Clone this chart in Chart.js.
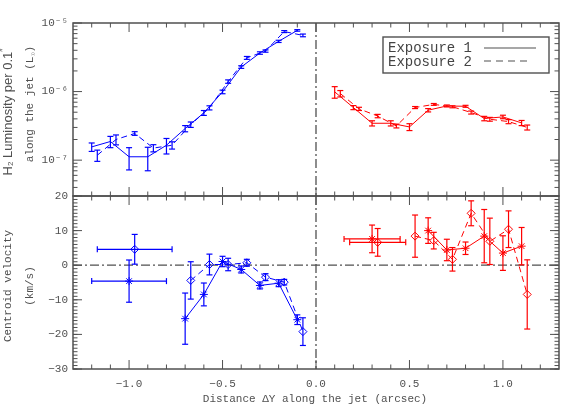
<!DOCTYPE html>
<html>
<head>
<meta charset="utf-8">
<script src="https://cdn.jsdelivr.net/npm/chart.js@4.4.0/dist/chart.umd.min.js"></script>
<style>
  body { margin: 0; background: #fff; }
  #wrap { position: relative; width: 581px; height: 415px; }
  #wrap canvas { position: absolute; left: 0; top: 0; }
</style>
</head>
<body>
<div id="wrap">
  <canvas id="lum-chart" width="581" height="415"></canvas>
  <canvas id="vel-chart" width="581" height="415"></canvas>
</div>
<script>
var seriesNames = ["Exposure 1", "Exposure 2"];

// top panel: H2 luminosity per 0.1" along the jet
var lumBlueX1 = [-1.2, -1.1, -1.0, -0.9, -0.8, -0.7, -0.6, -0.5, -0.4, -0.3, -0.2, -0.1];
var lumBlueY1 = [1.56e-7, 1.87e-7, 1.12e-7, 1.12e-7, 1.65e-7, 2.89e-7, 4.89e-7, 9.9e-7, 2.28e-6, 3.65e-6, 5.4e-6, 7.8e-6];
var lumBlueE1 = [0.22e-7, 0.35e-7, 0.4e-7, 0.42e-7, 0.42e-7, 0.3e-7, 0.4e-7, 0.6e-7, 1.0e-7, 1.5e-7, 2.0e-7, 2.0e-7];
var lumBlueX2 = [-1.17, -1.07, -0.97, -0.87, -0.77, -0.67, -0.57, -0.47, -0.37, -0.27, -0.17, -0.07];
var lumBlueY2 = [1.18e-7, 2.0e-7, 2.45e-7, 1.5e-7, 1.65e-7, 3.3e-7, 5.8e-7, 1.4e-6, 3.1e-6, 3.9e-6, 7.5e-6, 6.6e-6];
var lumBlueE2 = [0.22e-7, 0.33e-7, 0.15e-7, 0.18e-7, 0.2e-7, 0.3e-7, 0.4e-7, 0.8e-7, 1.5e-7, 1.5e-7, 2.5e-7, 3.0e-7];
var lumRedX1 = [0.1, 0.2, 0.3, 0.4, 0.5, 0.6, 0.7, 0.8, 0.9, 1.0, 1.1];
var lumRedY1 = [9.9e-7, 5.85e-7, 3.45e-7, 3.45e-7, 3.05e-7, 5.35e-7, 6.17e-7, 6.1e-7, 4.05e-7, 4.27e-7, 3.49e-7];
var lumRedE1 = [1.9e-7, 0.4e-7, 0.3e-7, 0.3e-7, 0.35e-7, 0.3e-7, 0.2e-7, 0.2e-7, 0.3e-7, 0.25e-7, 0.3e-7];
var lumRedX2 = [0.13, 0.23, 0.33, 0.43, 0.53, 0.63, 0.73, 0.83, 0.93, 1.03, 1.13];
var lumRedY2 = [9.35e-7, 5.6e-7, 4.4e-7, 3.15e-7, 5.85e-7, 6.5e-7, 6.0e-7, 4.95e-7, 3.95e-7, 3.65e-7, 3.0e-7];
var lumRedE2 = [1.0e-7, 0.3e-7, 0.25e-7, 0.2e-7, 0.2e-7, 0.2e-7, 0.2e-7, 0.25e-7, 0.25e-7, 0.25e-7, 0.25e-7];

// bottom panel: centroid velocity (km/s); first point of each is a wide bin
var velBlueX1 = [-1.0, -0.7, -0.6, -0.5, -0.4, -0.3, -0.2, -0.1];
var velBlueY1 = [-4.6, -15.45, -8.45, 1.07, -1.24, -5.85, -5.2, -15.75];
var velBlueE1 = [6.1, 7.4, 3.3, 1.5, 1.0, 1.0, 1.0, 1.4];
var velBlueX2 = [-0.97, -0.67, -0.57, -0.47, -0.37, -0.27, -0.17, -0.07];
var velBlueY2 = [4.6, -4.4, 0.2, 0.2, 0.7, -3.45, -4.9, -19.2];
var velBlueE2 = [4.3, 5.4, 3.0, 1.8, 1.0, 1.0, 0.8, 4.0];
var velRedX1 = [0.3, 0.6, 0.7, 0.8, 0.9, 1.0, 1.1];
var velRedY1 = [7.6, 10.0, 4.4, 4.9, 8.4, 3.5, 5.5];
var velRedE1 = [4.0, 3.7, 3.1, 1.8, 7.7, 5.0, 5.4];
var velRedX2 = [0.33, 0.53, 0.63, 0.73, 0.83, 0.93, 1.03, 1.13];
var velRedY2 = [6.6, 8.4, 7.1, 1.7, 15.0, 6.9, 10.4, -8.45];
var velRedE2 = [4.0, 6.1, 2.4, 3.4, 3.6, 6.7, 5.3, 10.0];
var binHalfWidthBlue = 0.2;
var binHalfWidthRed = 0.15;

// ticks
var xMajor = [-1.0, -0.5, 0.0, 0.5, 1.0];
var lumMajor = [1e-7, 1e-6, 1e-5];
var velMajor = [-30, -20, -10, 0, 10, 20];

var xMinor = [];
for (var i = -12; i <= 12; i++) xMinor.push(i / 10);
var lumMinor = [];
[1e-8, 1e-7, 1e-6].forEach(function(d) {
  for (var k = 2; k <= 9; k++) if (k * d >= 3e-8) lumMinor.push(k * d);
});
var velMinor = [];
for (var v = -30; v <= 20; v++) velMinor.push(v);

var GREY = "#505050";
var MONO = '"Liberation Mono", "DejaVu Sans Mono", monospace';
var BLUE = "#0000ff", RED = "#ff0000";

function pts(xs, ys) {
  return xs.map(function(x, i) { return { x: x, y: ys[i] }; });
}

function strokeLine(ctx, x1, y1, x2, y2) {
  ctx.beginPath(); ctx.moveTo(x1, y1); ctx.lineTo(x2, y2); ctx.stroke();
}

function drawParts(ctx, parts, cx, cy, vertical) {
  ctx.save();
  ctx.translate(cx, cy);
  if (vertical) ctx.rotate(-Math.PI / 2);
  ctx.textBaseline = "middle";
  ctx.textAlign = "left";
  ctx.fillStyle = GREY;
  var total = 0;
  parts.forEach(function(p) { ctx.font = p.font; total += ctx.measureText(p.text).width; });
  var u = -total / 2;
  parts.forEach(function(p) {
    ctx.font = p.font;
    ctx.fillText(p.text, u, p.dy || 0);
    u += ctx.measureText(p.text).width;
  });
  ctx.restore();
}

function makePanelPlugin(cfg) {
  return {
    id: "panel",
    beforeDatasetsDraw: function(chart) {
      var ctx = chart.ctx, a = chart.chartArea, sx = chart.scales.x, sy = chart.scales.y;
      ctx.save();
      ctx.strokeStyle = GREY;
      ctx.lineWidth = 1.3;
      ctx.setLineDash([9, 3, 2, 3]);
      var x0 = sx.getPixelForValue(0);
      strokeLine(ctx, x0, a.top, x0, a.bottom);
      if (cfg.zeroLine) {
        var y0 = sy.getPixelForValue(0);
        strokeLine(ctx, a.left, y0, a.right, y0);
      }
      ctx.restore();
    },
    afterDatasetsDraw: function(chart) {
      var ctx = chart.ctx, sx = chart.scales.x, sy = chart.scales.y;
      ctx.save();
      ctx.lineWidth = 1.2;
      ctx.setLineDash([]);
      chart.data.datasets.forEach(function(ds) {
        if (!ds.errY) return;
        ctx.strokeStyle = ds.barColor;
        ds.data.forEach(function(p, j) {
          var px = sx.getPixelForValue(p.x), py = sy.getPixelForValue(p.y);
          var yt = sy.getPixelForValue(p.y + ds.errY[j]);
          var yb = sy.getPixelForValue(p.y - ds.errY[j]);
          strokeLine(ctx, px, yt, px, yb);
          strokeLine(ctx, px - 3, yt, px + 3, yt);
          strokeLine(ctx, px - 3, yb, px + 3, yb);
          if (ds.errX && ds.errX[j]) {
            var xl = sx.getPixelForValue(p.x - ds.errX[j]);
            var xr = sx.getPixelForValue(p.x + ds.errX[j]);
            strokeLine(ctx, xl, py, xr, py);
            strokeLine(ctx, xl, py - 3, xl, py + 3);
            strokeLine(ctx, xr, py - 3, xr, py + 3);
          }
        });
      });
      ctx.restore();
    },
    afterDraw: function(chart) {
      var ctx = chart.ctx, a = chart.chartArea, sx = chart.scales.x, sy = chart.scales.y;
      ctx.save();
      ctx.strokeStyle = GREY;
      ctx.setLineDash([]);
      ctx.lineWidth = 1.5;
      ctx.strokeRect(a.left, a.top, a.right - a.left, a.bottom - a.top);
      ctx.lineWidth = 1;
      xMinor.forEach(function(v) {
        var major = Math.abs(v * 2 - Math.round(v * 2)) < 1e-6;
        var len = major ? 9 : 4.5, px = sx.getPixelForValue(v);
        strokeLine(ctx, px, a.top, px, a.top + len);
        strokeLine(ctx, px, a.bottom, px, a.bottom - len);
      });
      function yTick(v, len) {
        var py = sy.getPixelForValue(v);
        strokeLine(ctx, a.left, py, a.left + len, py);
        strokeLine(ctx, a.right, py, a.right - len, py);
      }
      cfg.yMinor.forEach(function(v) { yTick(v, 4.5); });
      cfg.yMajor.forEach(function(v) { yTick(v, 9); });
      ctx.restore();

      cfg.titles.forEach(function(t) { drawParts(ctx, t.parts, t.x, t.y, t.vertical); });

      if (cfg.legend) {
        var bx = a.right - 176, by = a.top + 14;
        ctx.save();
        ctx.strokeStyle = GREY;
        ctx.lineWidth = 1.4;
        ctx.strokeRect(bx, by, 166, 36);
        ctx.fillStyle = "#444";
        ctx.font = "14px " + MONO;
        ctx.textBaseline = "alphabetic";
        ctx.fillText(seriesNames[0], bx + 5, by + 15);
        ctx.fillText(seriesNames[1], bx + 5, by + 29);
        ctx.lineWidth = 1.2;
        strokeLine(ctx, bx + 101, by + 11, bx + 153, by + 11);
        ctx.setLineDash([7, 5]);
        strokeLine(ctx, bx + 101, by + 24, bx + 148, by + 24);
        ctx.restore();
      }
    }
  };
}

var supMap = { "-": "\u207B", "0": "\u2070", "1": "\u00B9", "5": "\u2075", "6": "\u2076", "7": "\u2077", "8": "\u2078" };
function powLabel(v) {
  var e = String(Math.round(Math.log10(v)));
  return "10" + e.split("").map(function(c) { return supMap[c]; }).join("");
}
function signed(v, digits) {
  var s = Math.abs(v).toFixed(digits);
  return (v < 0 ? "\u2212" : "") + s;
}

function lineSet(xs, ys, errs, color, dashed, opts) {
  opts = opts || {};
  var ds = {
    data: pts(xs, ys),
    errY: errs,
    errX: opts.errX,
    barColor: color,
    borderColor: color,
    backgroundColor: "rgba(0,0,0,0)",
    borderWidth: 1,
    borderDash: dashed ? [6, 4] : [],
    showLine: true,
    pointRadius: opts.marker ? 4 : 0,
    pointStyle: opts.marker || "circle",
    pointBorderColor: color,
    pointBackgroundColor: "rgba(0,0,0,0)",
    pointBorderWidth: 1
  };
  if (opts.skipFirst) {
    ds.segment = {
      borderColor: function(c) { return c.p0DataIndex === 0 ? "rgba(0,0,0,0)" : color; }
    };
  }
  return ds;
}

var tickFont = { family: MONO, size: 11 };

var lumConfig = {
  type: "scatter",
  data: {
    datasets: [
      lineSet(lumBlueX1, lumBlueY1, lumBlueE1, BLUE, false),
      lineSet(lumBlueX2, lumBlueY2, lumBlueE2, BLUE, true),
      lineSet(lumRedX1, lumRedY1, lumRedE1, RED, false),
      lineSet(lumRedX2, lumRedY2, lumRedE2, RED, true)
    ]
  },
  options: {
    responsive: false,
    animation: false,
    devicePixelRatio: 1,
    layout: { padding: { top: 23, right: 22, bottom: 219, left: 0 } },
    plugins: { legend: { display: false }, tooltip: { enabled: false } },
    scales: {
      x: { type: "linear", min: -1.3, max: 1.3, display: false },
      y: {
        type: "logarithmic", min: 3e-8, max: 1e-5,
        grid: { display: false, drawTicks: false }, border: { display: false },
        afterBuildTicks: function(s) { s.ticks = lumMajor.map(function(v) { return { value: v }; }); },
        afterFit: function(s) { s.width = 73; },
        ticks: { font: tickFont, color: GREY, padding: 5, callback: function(v) { return powLabel(v); } }
      }
    }
  },
  plugins: [makePanelPlugin({
    yMajor: lumMajor, yMinor: lumMinor, zeroLine: false, legend: true,
    titles: [
      { vertical: true, x: 8, y: 112, parts: [
        { text: "H", font: '13px "Liberation Sans", sans-serif' },
        { text: "2", font: '8px "Liberation Sans", sans-serif', dy: 3 },
        { text: " Luminosity per 0.1", font: '13px "Liberation Sans", sans-serif' },
        { text: "\u2033", font: '9px "Liberation Sans", sans-serif', dy: -4 }
      ] },
      { vertical: true, x: 30, y: 104, parts: [
        { text: "along the jet (L", font: "11px " + MONO },
        { text: "\u2609", font: "7px " + MONO, dy: 3 },
        { text: ")", font: "11px " + MONO }
      ] }
    ]
  })]
};

var velConfig = {
  type: "scatter",
  data: {
    datasets: [
      lineSet(velBlueX1, velBlueY1, velBlueE1, BLUE, false, { marker: "star", skipFirst: true, errX: [binHalfWidthBlue] }),
      lineSet(velBlueX2, velBlueY2, velBlueE2, BLUE, true, { marker: "rectRot", skipFirst: true, errX: [binHalfWidthBlue] }),
      lineSet(velRedX1, velRedY1, velRedE1, RED, false, { marker: "star", skipFirst: true, errX: [binHalfWidthRed] }),
      lineSet(velRedX2, velRedY2, velRedE2, RED, true, { marker: "rectRot", skipFirst: true, errX: [binHalfWidthRed] })
    ]
  },
  options: {
    responsive: false,
    animation: false,
    devicePixelRatio: 1,
    layout: { padding: { top: 196, right: 22, bottom: 0, left: 0 } },
    plugins: { legend: { display: false }, tooltip: { enabled: false } },
    scales: {
      x: {
        type: "linear", min: -1.3, max: 1.3,
        grid: { display: false, drawTicks: false }, border: { display: false },
        afterBuildTicks: function(s) { s.ticks = xMajor.map(function(v) { return { value: v }; }); },
        afterFit: function(s) { s.height = 46; },
        ticks: { font: tickFont, color: GREY, padding: 8, maxRotation: 0, autoSkip: false,
          callback: function(v) { return signed(v, 1); } }
      },
      y: {
        type: "linear", min: -30, max: 20,
        grid: { display: false, drawTicks: false }, border: { display: false },
        afterBuildTicks: function(s) { s.ticks = velMajor.map(function(v) { return { value: v }; }); },
        afterFit: function(s) { s.width = 73; },
        ticks: { font: tickFont, color: GREY, padding: 5, callback: function(v) { return signed(v, 0); } }
      }
    }
  },
  plugins: [makePanelPlugin({
    yMajor: velMajor, yMinor: velMinor, zeroLine: true, legend: false,
    titles: [
      { vertical: true, x: 8, y: 286, parts: [{ text: "Centroid velocity", font: "11px " + MONO }] },
      { vertical: true, x: 30, y: 286, parts: [{ text: "(km/s)", font: "11px " + MONO }] },
      { vertical: false, x: 315, y: 399, parts: [{ text: "Distance \u0394Y along the jet (arcsec)", font: "11px " + MONO }] }
    ]
  })]
};

window.onload = function() {
  window.lumChart = new Chart(document.getElementById("lum-chart").getContext("2d"), lumConfig);
  window.velChart = new Chart(document.getElementById("vel-chart").getContext("2d"), velConfig);
};
</script>
</body>
</html>
